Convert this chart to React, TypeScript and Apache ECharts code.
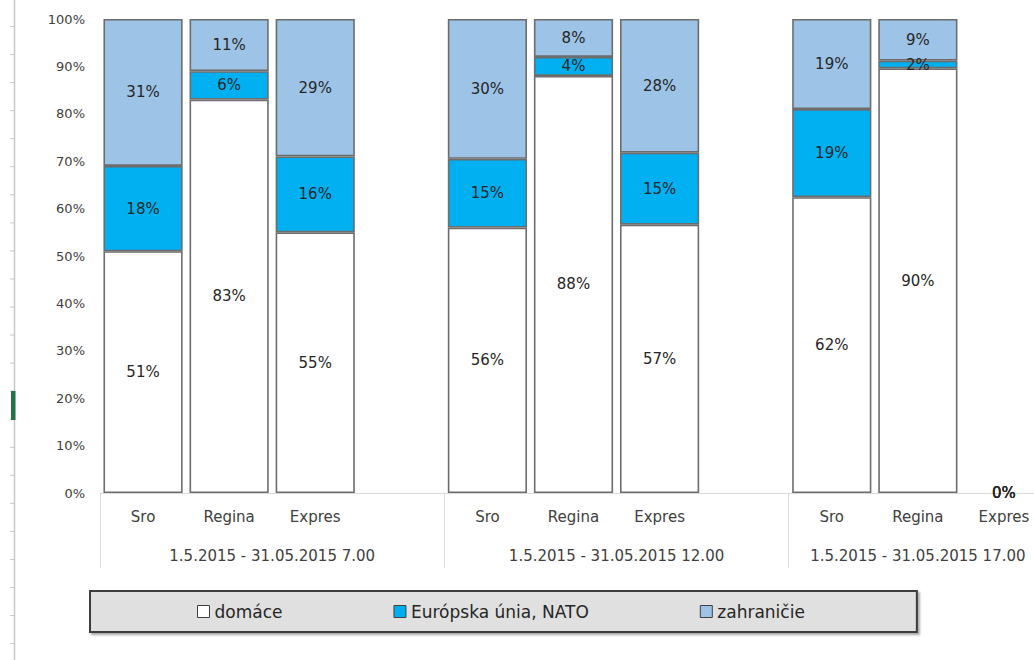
import React, { useEffect, useRef } from 'react';
import * as echarts from 'echarts';

const groups = ['1.5.2015 - 31.05.2015 7.00', '1.5.2015 - 31.05.2015 12.00', '1.5.2015 - 31.05.2015 17.00'];
const stations = ['Sro', 'Regina', 'Expres'];
const seriesNames = ['domáce', 'Európska únia, NATO', 'zahraničie'];
// values per group, in station order (Sro, Regina, Expres)
const domace = [51, 83, 55, 56, 88, 56.6, 62.4, 89.6, 0];
const europa = [18, 6, 16, 14.5, 4, 15.2, 18.6, 1.6, 0];
const zahranicie = [31, 11, 29, 29.5, 8, 28.2, 19, 8.8, 0];
const seriesColors = ['#ffffff', '#00b0f0', '#9dc3e6'];

const FONT = 'DejaVu Sans';

function buildCategories() {
  const cats: string[] = [];
  groups.forEach((g, gi) => {
    stations.forEach((s) => cats.push(s));
    if (gi < groups.length - 1) cats.push('');
  });
  return cats;
}

function buildData(values: number[]) {
  const out: any[] = [];
  groups.forEach((g, gi) => {
    stations.forEach((s, si) => {
      const v = values[gi * stations.length + si];
      out.push(v === 0 ? { value: v, itemStyle: { borderWidth: 0 } } : v);
    });
    if (gi < groups.length - 1) out.push(null);
  });
  return out;
}

function groupCenters() {
  const centers: { pos: number; label: string }[] = [];
  let start = 0;
  groups.forEach((g, gi) => {
    const n = stations.length + (gi < groups.length - 1 ? 1 : 0);
    centers.push({ pos: start + n / 2, label: g });
    start += n;
  });
  return centers;
}

export default function App() {
  const ref = useRef<HTMLDivElement>(null);
  useEffect(() => {
    if (!ref.current) return;
    const chart = echarts.init(ref.current, null, { renderer: 'svg' });
    const cats = buildCategories();
    const total = cats.length;
    const centers = groupCenters();
    const allSeries = [domace, europa, zahranicie];

    const deco: any[] = [
      { type: 'line', shape: { x1: 14.5, y1: 0, x2: 14.5, y2: 660 }, style: { stroke: '#c8c8c8', lineWidth: 1.5 } },
    ];
    for (let y = 26.5; y < 660; y += 28.05) {
      deco.push({ type: 'line', shape: { x1: 10, y1: y, x2: 14, y2: y }, style: { stroke: '#c8c8c8', lineWidth: 1 } });
    }
    deco.push({ type: 'rect', shape: { x: 11, y: 391, width: 4.5, height: 29 }, style: { fill: '#217346' } });

    chart.setOption({
      animation: false,
      backgroundColor: '#ffffff',
      textStyle: { fontFamily: FONT },
      grid: { left: 100, top: 19, width: 948.75, height: 474, containLabel: false },
      graphic: deco,
      legend: {
        left: 90,
        top: 591,
        padding: [12, 112, 12, 107],
        itemGap: 111,
        itemWidth: 12,
        itemHeight: 12,
        icon: 'rect',
        backgroundColor: '#e0e0e0',
        borderColor: '#3c3c3c',
        borderWidth: 2,
        shadowColor: 'rgba(0,0,0,0.35)',
        shadowBlur: 2,
        shadowOffsetX: 2,
        shadowOffsetY: 2,
        textStyle: { fontFamily: FONT, fontSize: 17, color: '#262626' },
        itemStyle: { borderColor: '#404040', borderWidth: 1 },
        data: seriesNames,
      },
      xAxis: [
        {
          type: 'category',
          data: cats,
          position: 'bottom',
          axisLine: { show: true, lineStyle: { color: '#d9d9d9', width: 1 } },
          axisTick: { show: false },
          axisLabel: { interval: 0, fontFamily: FONT, fontSize: 15, color: '#404040', margin: 16 },
          splitLine: { show: false },
        },
        {
          type: 'value',
          min: 0,
          max: total,
          interval: stations.length + 1,
          position: 'bottom',
          axisLine: { show: false },
          axisTick: { show: true, length: 75, lineStyle: { color: '#d9d9d9', width: 1 } },
          axisLabel: { show: false },
          splitLine: { show: false },
        },
        {
          type: 'value',
          min: 0,
          max: total,
          interval: 0.5,
          position: 'bottom',
          axisLine: { show: false },
          axisTick: { show: false },
          splitLine: { show: false },
          axisLabel: {
            show: true,
            fontFamily: FONT,
            fontSize: 15,
            color: '#404040',
            margin: 55,
            showMinLabel: true,
            showMaxLabel: true,
            formatter: (v: number) => {
              const c = centers.find((c) => Math.abs(c.pos - v) < 1e-6);
              return c ? c.label : '';
            },
          },
        },
      ],
      yAxis: {
        type: 'value',
        min: 0,
        max: 100,
        interval: 10,
        axisLine: { show: false },
        axisTick: { show: false },
        splitLine: { show: false },
        axisLabel: { formatter: '{value}%', fontFamily: FONT, fontSize: 13, color: '#404040', margin: 15 },
      },
      series: allSeries.map((vals, i) => ({
        name: seriesNames[i],
        type: 'bar',
        stack: 'total',
        xAxisIndex: 0,
        barCategoryGap: '8%',
        data: buildData(vals),
        itemStyle: { color: seriesColors[i], borderColor: '#6d6d6d', borderWidth: 1.6 },
        label: {
          show: true,
          position: 'inside',
          fontFamily: FONT,
          fontSize: 15,
          color: '#262626',
          formatter: (p: any) => (p.value == null ? '' : Math.round(p.value) + '%'),
        },
      })),
    });
    return () => chart.dispose();
  }, []);

  return (
    <div style={{ position: 'absolute', left: 0, top: 0, width: 1034, height: 660, overflow: 'hidden', background: '#fff' }}>
      <div ref={ref} style={{ width: 1050, height: 660 }} />
    </div>
  );
}
